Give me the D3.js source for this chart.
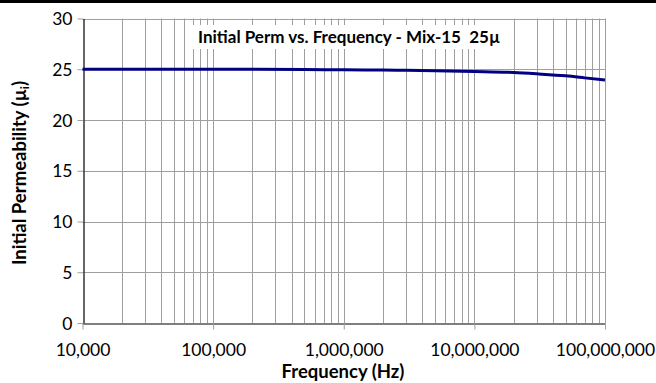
<!DOCTYPE html>
<html>
<head>
<meta charset="utf-8">
<script src="https://cdn.jsdelivr.net/npm/d3@7"></script>
<style>
  html, body { margin: 0; padding: 0; background: #fff; }
  svg { display: block; }
  text { font-family: Lato, "Open Sans", sans-serif; fill: #000; }
</style>
</head>
<body>
<svg id="chart" width="656" height="383"></svg>
<script>
// Initial permeability of Mix-15 (25µ) vs. frequency
const frequencies = [1e4, 2e4, 5e4, 1e5, 2e5, 5e5, 1e6, 2e6, 3e6, 5e6, 1e7, 2e7, 3e7, 5e7, 7e7, 1e8];
const permeability = [25.0, 25.0, 25.0, 25.0, 24.99, 24.97, 24.95, 24.92, 24.9, 24.85, 24.78, 24.68, 24.55, 24.35, 24.15, 23.93];
const xTickValues = [1e4, 1e5, 1e6, 1e7, 1e8];
const yTickValues = [0, 5, 10, 15, 20, 25, 30];
const chartTitle = "Initial Perm vs. Frequency - Mix-15  25\u00b5";
const xTitle = "Frequency (Hz)";
const yTitle = "Initial Permeability (\u00b5";
const yTitleSub = "i";

const svg = d3.select("#chart");
const margin = { left: 82.5, right: 51, top: 18.5, bottom: 60 };
const W = 656, H = 383;

// top rule
svg.append("rect").attr("x", 0).attr("y", 0).attr("width", W).attr("height", 3).attr("fill", "#000");

const x = d3.scaleLog().domain([1e4, 1e8]).range([margin.left, W - margin.right]);
const y = d3.scaleLinear().domain([0, 30]).range([H - margin.bottom, margin.top]);

// minor + major vertical grid lines
const vGrid = [];
for (let e = 4; e < 8; e++) {
  for (let m = 1; m <= 9; m++) vGrid.push(m * Math.pow(10, e));
}
vGrid.push(1e8);
svg.append("g").selectAll("line").data(vGrid.filter(d => d > 1e4)).join("line")
  .attr("x1", d => Math.round(x(d)) + 0.5).attr("x2", d => Math.round(x(d)) + 0.5)
  .attr("y1", y(30)).attr("y2", y(0))
  .attr("stroke", "#9f9f9f").attr("stroke-width", 1);

// horizontal grid lines
svg.append("g").selectAll("line").data(yTickValues.filter(d => d > 0)).join("line")
  .attr("x1", x(1e4)).attr("x2", x(1e8))
  .attr("y1", d => Math.round(y(d)) + 0.5).attr("y2", d => Math.round(y(d)) + 0.5)
  .attr("stroke", "#9f9f9f").attr("stroke-width", 1);

// axes
const xAxis = svg.append("g").attr("transform", `translate(0,${Math.round(y(0)) + 0.5})`)
  .call(d3.axisBottom(x).tickValues(xTickValues).tickFormat(d3.format(",")).tickSizeInner(6).tickSizeOuter(0).tickPadding(14));
const yAxis = svg.append("g").attr("transform", `translate(${Math.round(x(1e4)) + 0.5},0)`)
  .call(d3.axisLeft(y).tickValues(yTickValues).tickSizeInner(6).tickSizeOuter(0).tickPadding(5));

[xAxis, yAxis].forEach(g => {
  g.select(".domain").attr("stroke", "#000").attr("stroke-width", 1.2);
  g.selectAll(".tick line").attr("stroke", "#9f9f9f");
  g.selectAll(".tick text").attr("font-family", "Lato, sans-serif").attr("font-size", 17.5).attr("fill", "#222");
});
yAxis.selectAll(".tick text").attr("dy", "0.35em");

// data curve
const line = d3.line().x((d, i) => x(frequencies[i])).y(d => y(d)).curve(d3.curveMonotoneX);
svg.append("path").datum(permeability)
  .attr("d", line).attr("fill", "none").attr("stroke", "#000080").attr("stroke-width", 3);

// title box
svg.append("rect").attr("x", 189).attr("y", 25).attr("width", 312).attr("height", 24).attr("fill", "#fff");
svg.append("text").attr("x", 198).attr("y", 43).attr("font-size", 17).attr("font-weight", "bold")
  .style("white-space", "pre").text(chartTitle);

// axis titles
svg.append("text").attr("x", 343).attr("y", 378).attr("text-anchor", "middle")
  .attr("font-size", 18.5).attr("font-weight", "bold").text(xTitle);

const yt = svg.append("text").attr("transform", "translate(26,173) rotate(-90)").attr("text-anchor", "middle")
  .attr("font-size", 18.5).attr("font-weight", "bold");
yt.append("tspan").text(yTitle);
yt.append("tspan").attr("font-size", 12).attr("dy", 3).text(yTitleSub);
yt.append("tspan").attr("dy", -3).text(")");
</script>
</body>
</html>
